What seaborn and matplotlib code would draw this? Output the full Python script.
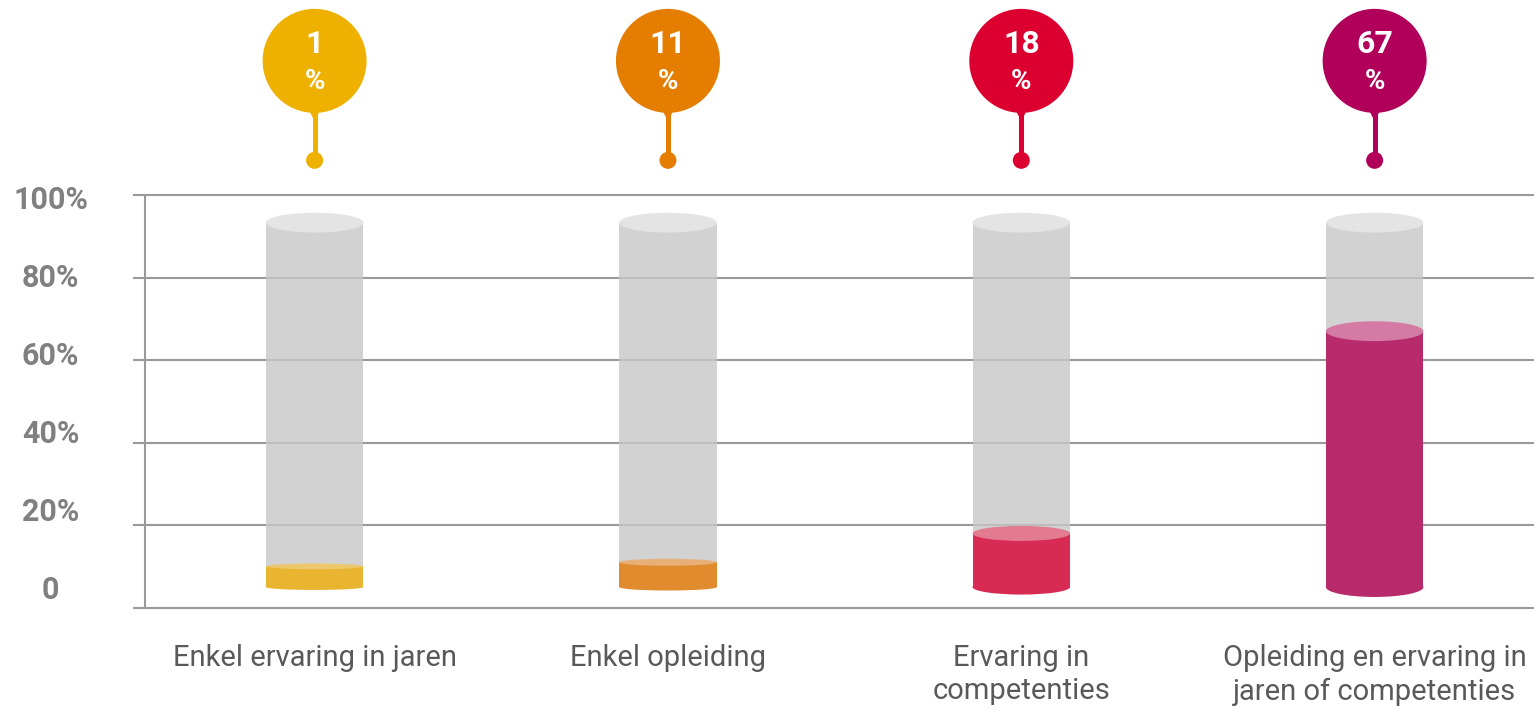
import numpy as np
import pandas as pd
import matplotlib
matplotlib.use("Agg")
import matplotlib.pyplot as plt
from matplotlib.patches import Ellipse
import seaborn as sns

# --- data -------------------------------------------------------------
categories = [
    "Enkel ervaring in jaren",
    "Enkel opleiding",
    "Ervaring in\ncompetenties",
    "Opleiding en ervaring in\njaren of competenties",
]
values = [1, 11, 18, 67]
tick_values = [0, 20, 40, 60, 80, 100]
tick_labels = ["0", "20%", "40%", "60%", "80%", "100%"]

badge_colors = ["#EFB100", "#E57D00", "#DC0031", "#B1005A"]
fill_colors = ["#E9B430", "#E08C2E", "#D72B53", "#B72B6D"]
cap_colors = ["#EDC76C", "#E8B077", "#E27B90", "#D47AA5"]

# --- style ------------------------------------------------------------
sns.set_theme(style="white")
plt.rcParams["font.family"] = ["Roboto", "DejaVu Sans"]

BASE = 5.0        # bottom of every tube
FULL = 93.3       # top of the grey tube
MIN_FILL = 10.0   # smallest visible liquid level
BAR_W = 0.276
GRID_C = "#9A9A9A"
TEXT_C = "#595959"
TICK_C = "#808080"

df = pd.DataFrame({"categorie": categories, "waarde": values})
df["niveau"] = np.maximum(df["waarde"], MIN_FILL)
df["buis"] = FULL

fig = plt.figure(figsize=(15.34, 7.10), dpi=100)
ax = fig.add_axes([145 / 1534, 0, 1389 / 1534, 1])


def cap_height(h):
    return min(4.8, 0.28 * h)


# grey tubes
sns.barplot(data=df, x="categorie", y="buis", color="#C7C7C7", width=BAR_W,
            saturation=1, ax=ax, zorder=3)
tubes = list(ax.patches)
for p in tubes:
    p.set_y(BASE)
    p.set_height(FULL - BASE)
    p.set_alpha(0.79)
    p.set_edgecolor("none")
    cx = p.get_x() + p.get_width() / 2
    ax.add_patch(Ellipse((cx, FULL), p.get_width(), cap_height(FULL - BASE),
                         fc="#E4E4E4", ec="none", zorder=4))

# liquid level
n0 = len(ax.patches)
sns.barplot(data=df, x="categorie", y="niveau", hue="categorie",
            palette=fill_colors, width=BAR_W, saturation=1, legend=False,
            ax=ax, zorder=5)
fills = [p for p in ax.patches[n0:] if p.get_height() > 0]
for p, lvl, fc, cc in zip(fills, df["niveau"], fill_colors, cap_colors):
    p.set_y(BASE)
    p.set_height(lvl - BASE)
    p.set_edgecolor("none")
    cx = p.get_x() + p.get_width() / 2
    eh = cap_height(lvl - BASE)
    ax.add_patch(Ellipse((cx, BASE), p.get_width(), eh, fc=fc,
                         ec="none", zorder=5))
    ax.add_patch(Ellipse((cx, lvl), p.get_width(), eh, fc=cc,
                         ec="none", zorder=6))

# value badges above each tube
xs = np.arange(len(categories))
BADGE_Y = 132.5
ax.vlines(xs, 108.4, 121.0, colors=badge_colors, lw=3.6, zorder=6)
ax.scatter(xs, [108.4] * len(xs), s=150, c=badge_colors, lw=0, zorder=7)
ax.scatter(xs, [119.6] * len(xs), s=110, c=badge_colors, marker="v", lw=0,
           zorder=7)
ax.scatter(xs, [BADGE_Y] * len(xs), s=5610, c=badge_colors, lw=0, zorder=7)
for x, v in zip(xs, values):
    ax.text(x, 136.6, f"{v}", ha="center", va="center", color="white",
            fontsize=23, fontweight="bold", zorder=8)
    ax.text(x, 127.4, "%", ha="center", va="center", color="white",
            fontsize=20, fontweight="bold", zorder=8)

# category labels
for x, lab in zip(xs, categories):
    ax.text(x, -8.9, lab, ha="center", va="top", color=TEXT_C, fontsize=21,
            linespacing=1.22)

# axes
ax.set_xlim(-0.480, 3.451)
ax.set_ylim(-24.79, 147.25)
ax.set_xlabel("")
ax.set_ylabel("")
ax.tick_params(axis="x", length=0, labelbottom=False)
ax.set_yticks(tick_values)
ax.tick_params(axis="y", length=8.6, width=1.5, color=GRID_C,
               labelleft=False, left=True)
ax.yaxis.grid(True, color=GRID_C, lw=1.5, zorder=1)
ax.set_axisbelow(True)
for side in ["top", "right", "bottom"]:
    ax.spines[side].set_visible(False)
ax.spines["left"].set_color(GRID_C)
ax.spines["left"].set_linewidth(1.5)
ax.spines["left"].set_bounds(0, 100)
ax.patch.set_alpha(0)

# percentage scale, set slightly tighter than the grid and aligned to the tubes
lab_ax = ax.twinx()
lab_ax.set_ylim(-31.58, 150.7)
lab_ax.set_yticks(tick_values, tick_labels)
lab_ax.yaxis.set_ticks_position("left")
lab_ax.tick_params(axis="y", length=0, labelcolor=TICK_C, labelsize=22,
                   pad=68, labelleft=True, labelright=False)
for t in lab_ax.get_yticklabels():
    t.set_fontweight("bold")
    t.set_horizontalalignment("center")
for s in lab_ax.spines.values():
    s.set_visible(False)
lab_ax.patch.set_alpha(0)

fig.savefig("out.png", dpi=100)
